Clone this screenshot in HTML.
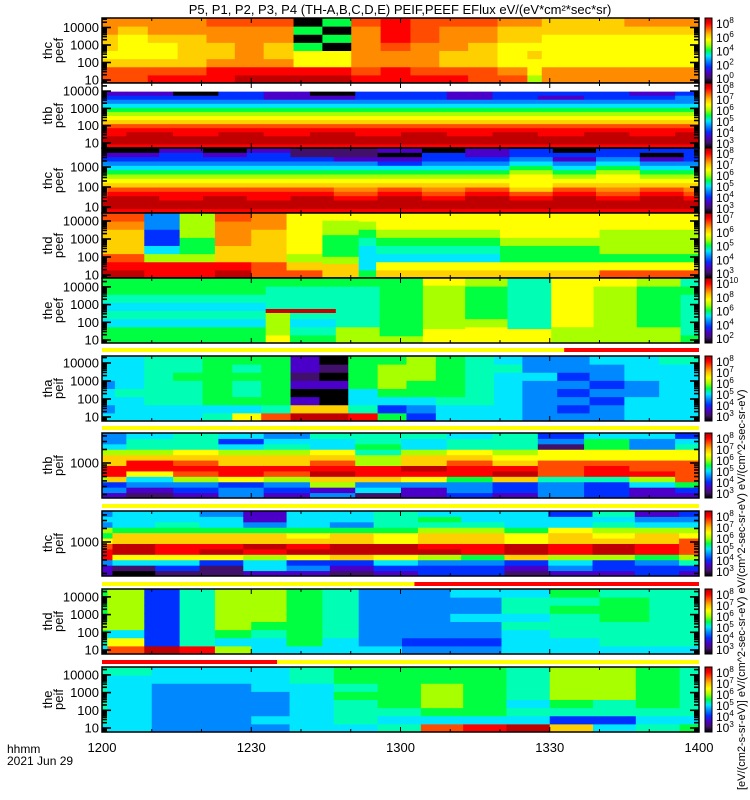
<!DOCTYPE html>
<html><head><meta charset="utf-8"><style>
html,body{margin:0;padding:0;background:#fff;}
svg{display:block;font-family:"Liberation Sans",sans-serif;}
</style></head><body>
<svg id="chart" width="750" height="800" viewBox="0 0 750 800" xmlns="http://www.w3.org/2000/svg">
<text x="400" y="14" font-size="13" text-anchor="middle">P5, P1, P2, P3, P4 (TH-A,B,C,D,E) PEIF,PEEF EFlux eV/(eV*cm²*sec*sr)</text>
<g id="panels"></g>
<text x="7" y="753" font-size="12">hhmm</text>
<text x="7" y="765" font-size="12">2021 Jun 29</text>
<text transform="translate(745,790) rotate(-90)" font-size="11">[eV/(cm2-s-sr-eV)]  eV/(cm^2-sec-sr-eV)  eV/(cm^2-sec-sr-eV)  eV/(cm^2-sec-sr-eV)</text>
</svg>
<script>
// Time axis (minutes after 12:00)
const xTickLabels = ["1200","1230","1300","1330","1400"];
const xTickMinutes = [0,30,60,90,120];
// Panel names
const panelNames = [["thc","peef"],["thb","peef"],["thc","peef"],["thd","peef"],["the","peef"],["tha","peif"],["thb","peif"],["thc","peif"],["thd","peif"],["the","peif"]];
// Block start minutes and column colour codes (bottom→top) per panel
const p1Edges=[0,3.2,9.2,15.2,21.0,26.7,32.5,38.5,44.3,50.1,56.0,62.0,67.8,73.6,79.5,85.5,88.4,105];
const p1Cols=["OOYyYYoo","OOYyyyYo","rOYyyYoo","rOYYYYoo","rroYYooO","droooooO","droYYooO","dryygKgK","dryyKgKg","rOoooooO","rrooOrrr","rOoooOOO","rOYYoooO","OOYYYooO","OoyyyYYo","lyyYyYYo","ooyyyyYY","ooyyyyYo"];
const p2Edges=[0,4.9,14.3,23.4,32.5,41.8,50.9,60.1,69.3,78.5,87.6,96.9,106.0,115.2];
const p2Cols=["rddrrOYylgcbBV..","rdddrOYylgcbBV..","rddrrOYylgcbBK..","rdddrOYylgcbBB..","rddrrOYylgcbVV..","rdddrOYylgcbVK..","rddrrOYylgcbBB..","rdddrOYylgcbBB..","rddrrOYylgcbVV..","rdddrOYylgcbBB..","rddrrOYylgcbVB..","rdddrOYylgcbBB..","rddrrOYylgcbBV..","rdddrOYylgcbbB.."];
const p3Edges=[0,1.1,11.5,20.3,29.1,37.9,46.6,55.4,64.3,73.0,81.9,90.6,99.3,108.1,116.9];
const p3Cols=["rddrOoYylgcbBVK","rdddrOYylgcbBVK","rddrrOYylgcbBBV","rdddrOYylgcbBVK","rddrrOYylgcbBBV","rdddrOYylgcbBPP","rddrOoYylgcbVPP","rdddrOYylgcBVKV","rddrOoYylgcbBBK","rdddrOYylgcbBVV","rddrOYyyylgcbBB","rdddrOYylgcbVBK","rddrOoYyylgcbBB","rdddrOYylgcbVKB","rddrOoYylgcbBBB"];
const p4Edges=[0,8.5,15.6,22.7,30.0,37.1,44.3,51.6,55.1,80,100];
const p4Cols=["drOYYYoO","rrlcBBbb","rrlgglll","drYYoooO","OOYYYYoo","OYlyyyyy","YYlggglly","gccctgly","Yyctglyy","Yygglyyy","Oyglllyy"];
const p5Edges=[0,32.9,37.8,47.0,55.8,64.5,73.0,81.5,90.3,98.8,107.5,116.3];
const p5Cols=["ggctctgg","yllltttg","gtcttttg","lltttttg","lgggggggg","yylllllly","yylggggl","yyttttttt","llyyyyyy","llllllly","llgggggl","gtttttgt"];
const p6Edges=[0,2.6,8.5,14.3,20.2,26.2,32.0,37.9,43.7,49.5,55.4,61.2,67.1,73.0,78.8,84.5,91.5,98,105,112];
const p6Cols=["cbccbccc","ccctcccc","cctttttt","cctttgtt","tcgggggg","ycgttgtg","Otgggggg","dYVKVPVV","dYKKVKPK","rtccgggg","gBcglllg","Bbcgglll","cctggggg","cctttttt","cccccctc","bbbbbcbb","bBbBbBbb","bbBbBbbc","cccbbccc","ccccccct"];
const p7Edges=[0,1.1,4.9,14.3,23.4,32.5,41.8,50.9,60.1,69.3,78.5,87.6,96.9,106.0,115.2];
const p7Cols=["VbBlrrYYlcbb","VbBYrrYYlcbb","PVbcyrrYlttc","VBblOrOYyttt","bbByrrYYlcBc","VBblOrYYltcb","bVlYdrOYycct","PcbYrrlltgtt","VVbyrdYYlcct","BbbgrrOYyttc","VBBYdrYylttt","bbbtOOOyyPbB","BBBtrrOyyggc","VVclrOOyybbc","VBgOOOOyytcB"];
const p8Edges=[0,2.1,10.7,19.6,28.4,37.1,45.8,54.6,63.5,72.2,80.9,89.7,98.6,107.1,116.0];
const p8Cols=["VVbrrOyglbcb","KPcyddYYgccc","PBcyrrYYgtcc","PPBydrYYgccb","VcclrdYYgbVV","VbBydrYygccc","PVBYddYYgbcc","VBcyddyygttt","BBbldrYYltgc","BBbgrrYYltcc","PVBYddyygccc","VbclrrYYyccB","VBBlddYyltct","BBbgrrYYlcbV","VBtlOOOylcbB"];
const p9Edges=[0,1.1,8.5,15.6,22.7,30.0,37.1,44.3,51.6,60.3,70,80.3,90,100,110];
const p9Cols=["ctglgggg","Oyclllll","dBBBBBBB","rttttttt","lcglllll","cctgllll","cggggggg","cctttttt","cbbbbbbb","bBbbbbbb","bBbbcbbc","ccctcttc","cctttgtg","ctttgggt","cttttttt"];
const p10Edges=[0,1.1,10,20,30,37.7,46.6,55.4,64.1,72.6,81.3,90.0,98.7,107.3,116.1];
const p10Cols=["cttttttt","ccccccct","bbbbbbcc","bbbbbbcc","bcbbbccc","cccccctt","ctttgtgg","tctggggg","Ocglllgg","rcgggggg","dctctttt","YBtgllll","cBttllll","tctggggg","gctttttt"];
// Flag bars between panels: [switch minute, left colour, right colour]
const barSwitch=[92.9,120,120,62.8,35.2];
const barLeft=["y","y","y","y","r"];
const barRight=["r","y","y","r","y"];
// Colorbar exponent labels (top→bottom)
const cbLabels=[["8","6","4","2","0"],["8","7","6","5","4","3"],["8","7","6","5","4","3"],["7","6","5","4","3"],["10","8","6","4","2"],["8","7","6","5","4","3"],["8","7","6","5","4","3"],["8","7","6","5","4","3"],["8","7","6","5","4","3"],["8","7","6","5","4","3"]];

const pal={K:"#000000",P:"#40106a",V:"#4a00c8",B:"#0030ff",b:"#0088ff",c:"#00e6ff",t:"#00ffb4",g:"#00ff40",l:"#a8ff00",y:"#ffff00",Y:"#ffd000",o:"#ff8c00",O:"#ff4c00",r:"#ff0000",d:"#c00000",".":"#ffffff"};
const allEdges=[p1Edges,p2Edges,p3Edges,p4Edges,p5Edges,p6Edges,p7Edges,p8Edges,p9Edges,p10Edges];
const allCols=[p1Cols,p2Cols,p3Cols,p4Cols,p5Cols,p6Cols,p7Cols,p8Cols,p9Cols,p10Cols];
const panelTop=[18,83,148,213,278,356,433,511,589,667];
const PH=65, X0=102, X1=699;
const xs=m=>X0+(m/120)*(X1-X0);
// y axis: [y of value 10, px per decade, labels to show]
const yAx=[[80,17.5,[10,100,1000,10000]],[143,17.3,[10,100,1000,10000]],[207,20,[10,100,1000]],[275,18,[10,100,1000,10000]],[340,17.7,[10,100,1000,10000]],[417,18,[10,100,1000,10000]],[553,45,[1000]],[632,45,[1000]],[650,17.7,[10,100,1000,10000]],[728,17.7,[10,100,1000,10000]]];
const NS="http://www.w3.org/2000/svg";
const root=document.getElementById("panels");
function mk(tag,at,parent){const e=document.createElementNS(NS,tag);for(const k in at)e.setAttribute(k,at[k]);(parent||root).appendChild(e);return e;}
const defs=mk("defs",{});
const grad=mk("linearGradient",{id:"cbg",x1:"0",y1:"1",x2:"0",y2:"0"},defs);
["#000000","#40106a","#4a00c8","#0030ff","#0088ff","#00e6ff","#00ff40","#a8ff00","#ffff00","#ffc000","#ff6000","#ff0000","#b00000"].forEach((c,i,a)=>mk("stop",{offset:(i/(a.length-1)),"stop-color":c},grad));

for(let p=0;p<10;p++){
  const top=panelTop[p], g=mk("g",{});
  
  
  const edges=allEdges[p], cols=allCols[p];
  for(let i=0;i<cols.length;i++){
    const m0=edges[i], m1=(i+1<edges.length)?edges[i+1]:120;
    const s=cols[i], n=s.length, bh=PH/n;
    for(let j=0;j<n;j++){
      const r=mk("rect",{x:xs(m0).toFixed(2),y:(top+PH-(j+1)*bh).toFixed(2),width:(xs(m1)-xs(m0)+0.5).toFixed(2),height:(bh+0.5).toFixed(2),fill:pal[s[j]]},g);
      
      
    }
  }
  if(p===4){
    const rl=mk("rect",{x:xs(32.9),y:top+31,width:xs(47)-xs(32.9),height:4,fill:"#c80000"},g);
    
    
  }
  const fr=mk("rect",{x:X0,y:top,width:X1-X0,height:PH,fill:"none",stroke:"#000","stroke-width":1.5},g);
  
  
  // x ticks
  for(let m=0;m<=120;m+=10){
    const L=(m%30===0)?5:3,x=xs(m);
    mk("line",{x1:x,y1:top,x2:x,y2:top+L,stroke:"#000","stroke-width":1},g);
    mk("line",{x1:x,y1:top+PH,x2:x,y2:top+PH-L,stroke:"#000","stroke-width":1},g);
  }
  // y ticks
  const [y10,dec,labs]=yAx[p];
  for(let d=0;d<=5;d++){
    for(let k=1;k<=9;k++){
      const v=k*Math.pow(10,d);
      const y=y10-(Math.log10(v)-1)*dec;
      if(y<top+1||y>top+PH-1)continue;
      const L=k===1?9:5;
      mk("line",{x1:X0,y1:y,x2:X0+L,y2:y,stroke:"#000","stroke-width":1.6},g);
      mk("line",{x1:X1,y1:y,x2:X1-L,y2:y,stroke:"#000","stroke-width":1.6},g);
    }
  }
  labs.forEach(v=>{
    const y=y10-(Math.log10(v)-1)*dec;
    const t=mk("text",{x:99,y:y+4.5,"font-size":13,"text-anchor":"end"},g);
    t.textContent=String(v);
    
    
  });
  const yl=mk("text",{transform:`translate(52,${top+PH/2}) rotate(-90)`,"font-size":13,"text-anchor":"middle"},g);
  yl.textContent=panelNames[p][0];
  
  
  const yl2=mk("text",{transform:`translate(63,${top+PH/2}) rotate(-90)`,"font-size":13,"text-anchor":"middle"},g);
  yl2.textContent=panelNames[p][1];
  
  
  // colorbar
  const cb=mk("rect",{x:705,y:top,width:7,height:PH,fill:"url(#cbg)",stroke:"#000","stroke-width":1},g);
  
  
  const cl=cbLabels[p];
  cl.forEach((e,i)=>{
    const y=top+6+i*(PH-10)/(cl.length-1);
    const t=mk("text",{x:716,y:y+4,"font-size":12},g);
    t.textContent="10";
    const sp=mk("tspan",{dy:-5,"font-size":8},t);
    sp.textContent=e;
    
    
  });
}
// flag bars
const barY=[348,426,504,582,660];
for(let i=0;i<5;i++){
  const a=mk("rect",{x:X0,y:barY[i],width:xs(barSwitch[i])-X0,height:4,fill:pal[barLeft[i]]});
  
  
  if(barSwitch[i]<120){
    const b=mk("rect",{x:xs(barSwitch[i]),y:barY[i],width:X1-xs(barSwitch[i]),height:4,fill:pal[barRight[i]]});
    
    
  }
}
xTickLabels.forEach((l,i)=>{
  const t=mk("text",{x:xs(xTickMinutes[i]),y:752,"font-size":13,"text-anchor":"middle"});
  t.textContent=l;
  
  
});
</script>
</body></html>
